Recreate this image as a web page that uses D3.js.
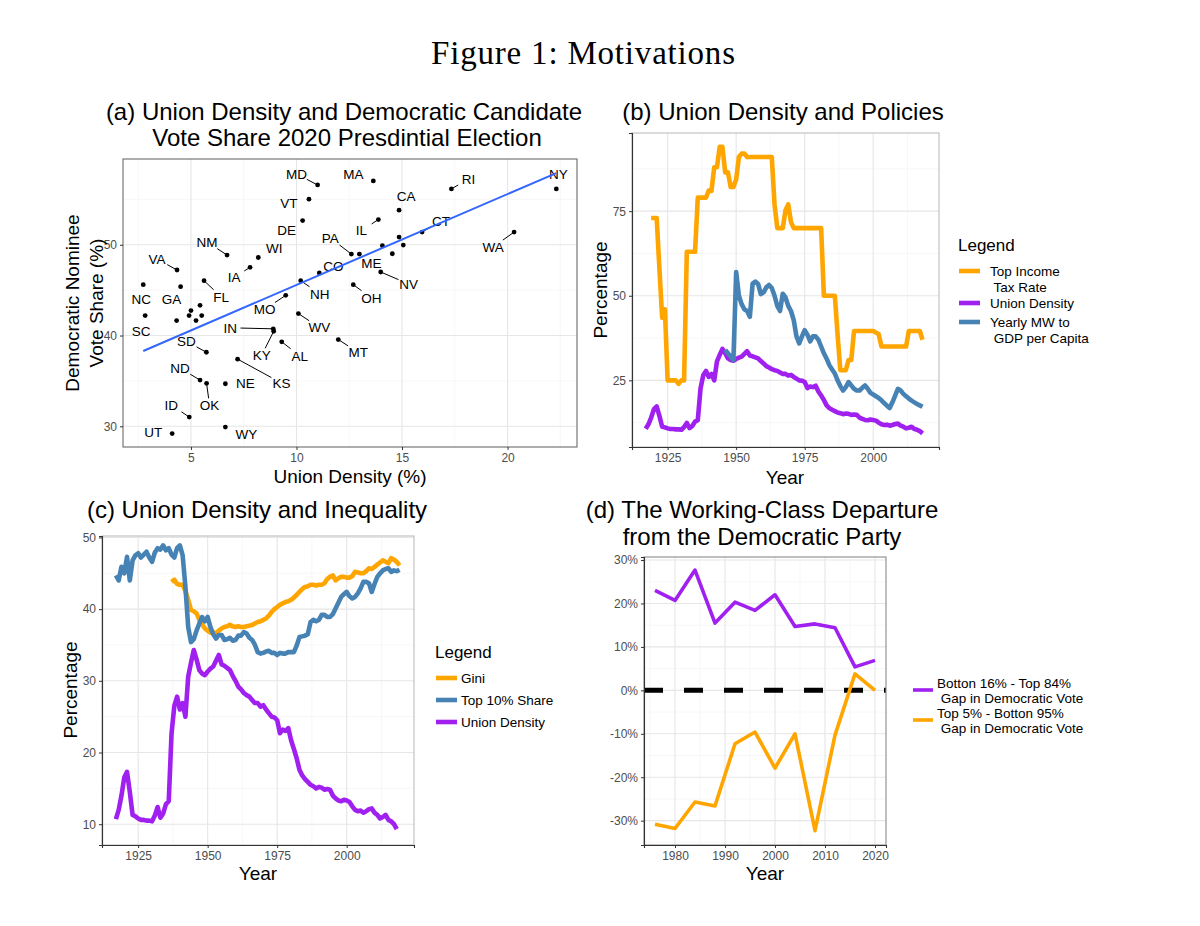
<!DOCTYPE html>
<html><head><meta charset="utf-8">
<script src="https://cdn.jsdelivr.net/npm/d3@7"></script>
<style>body{margin:0;background:#fff} svg text{font-family:"Liberation Sans",Arial,sans-serif}</style>
</head><body>
<script>
// ---------------- DATA ----------------
// (a) scatter: states
const stateNames = ["MD","MA","RI","NY","VT","CA","DE","IL","CT","WA","NM","WI","PA","ME","IA","VA","CO","NV","NC","GA","FL","NH","OH","SC","MO","WV","IN","KY","AL","MT","SD","KS","ND","OK","NE","ID","UT","WY","","","","","","","","","",""];
const stateDensity = [11.00,13.64,17.34,22.31,10.59,14.86,10.29,13.88,15.95,20.31,6.71,8.19,12.60,12.98,7.80,4.34,11.08,13.99,2.74,4.51,5.62,10.20,12.69,2.83,9.49,10.09,8.90,8.92,9.30,11.98,5.73,7.21,5.43,5.74,6.63,4.92,4.11,6.63,5.00,5.43,4.91,5.24,5.51,4.32,14.86,14.07,15.06,14.54];
const stateDemShare = [56.59,57.03,56.15,56.15,55.02,53.81,52.67,52.78,51.40,51.40,48.87,48.60,48.98,48.98,47.51,47.22,46.89,47.00,45.60,45.38,46.04,46.04,45.60,42.20,44.43,42.42,40.74,40.47,39.31,39.56,38.16,37.40,35.09,34.73,34.69,31.02,29.20,29.92,42.75,43.33,42.20,41.65,42.20,41.65,50.85,49.89,49.97,49.01];
const fitX = [2.74, 22.31];
const fitY = [38.3, 57.9];

// (b)/(c) union density 1917-2018
const unionStart = 1917;
const unionDensity = [10.7,12.0,14.0,16.5,17.3,14.5,11.3,11.1,10.8,10.6,
 10.6,10.5,10.5,10.4,11.2,12.4,10.9,11.5,12.8,13.2,
 22.6,26.5,27.8,26.0,26.9,25.0,30.6,32.5,34.3,33.0,
 31.5,31.0,30.8,31.3,31.7,32.0,32.8,33.6,32.3,32.1,
 31.8,31.5,30.7,30.0,29.2,28.8,28.3,28.0,27.8,27.3,
 26.9,26.9,26.4,26.6,26.0,25.5,25.0,24.9,24.5,22.7,
 23.2,23.0,23.4,21.7,20.5,19.2,17.6,16.8,16.3,15.9,
 15.5,15.3,15.0,15.2,15.1,14.8,14.9,14.8,14.0,13.6,
 13.3,13.2,13.4,13.3,13.1,12.5,12.0,11.8,11.9,11.6,
 11.8,12.1,12.2,11.6,11.3,10.8,11.0,11.3,10.6,10.4,
 10.0,9.3];
// (b) top income tax rate 1919-2018
const taxStart = 1919;
const topTaxRate = [73,73,73,58,43.5,46,25,25,25,25,
 24,25,25,63,63,63,63,79,79,79,
 79,81.1,81,88,88,94,94,86.45,86.45,82.13,
 82.13,84.36,91,92,92,91,91,91,91,91,
 91,91,91,91,91,77,70,70,70,75.25,
 77,71.75,70,70,70,70,70,70,70,70,
 70,70,70,50,50,50,50,50,38.5,28,
 28,28,31,31,39.6,39.6,39.6,39.6,39.6,39.6,
 39.6,39.6,39.1,38.6,35,35,35,35,35,35,
 35,35,35,35,39.6,39.6,39.6,39.6,39.6,37];
// (b) yearly minimum wage to GDP per capita 1946-2018
const mwStart = 1946;
const mwToGdp = [34.0,33.0,32.0,31.0,57.0,50.0,47.5,46.0,45.5,43.8,
 53.6,54.2,53.5,50.5,51.0,52.5,53.2,52.3,50.0,47.0,
 45.5,50.6,49.5,47.0,45.5,42.8,38.0,35.9,38.0,39.8,
 38.5,36.5,38.0,38.0,37.0,35.0,33.0,31.4,29.5,28.2,
 27.0,25.0,23.3,22.0,23.0,24.5,23.5,22.5,22.0,22.0,
 22.8,23.5,22.5,21.3,20.8,20.3,19.8,19.1,18.3,17.5,
 16.8,18.5,20.5,22.5,22.0,21.0,20.3,19.6,19.0,18.5,
 18.0,17.6,17.2];
// (c) top 10% share 1917-2019
const top10Start = 1917;
const top10Share = [44.7,44.0,45.9,45.0,47.3,44.0,46.8,47.5,47.8,47.2,
 47.6,48.0,47.2,46.6,47.9,48.5,48.3,48.9,48.2,48.5,
 47.6,47.2,48.5,48.9,47.5,43.1,37.5,35.4,35.8,37.0,
 38.0,38.9,38.3,38.9,37.5,36.5,35.9,36.4,36.4,35.7,
 35.8,36.0,35.6,35.7,36.3,36.3,36.8,36.6,36.0,35.7,
 35.0,34.0,33.8,33.9,34.1,34.2,33.9,33.9,33.6,33.9,
 33.8,33.8,34.0,34.0,34.0,34.9,36.1,36.2,36.3,36.5,
 38.2,38.5,38.3,38.5,39.2,39.2,38.9,38.9,39.3,40.1,
 40.9,41.7,42.1,42.4,41.8,41.5,41.7,42.2,42.9,43.8,
 43.8,43.6,42.4,43.5,44.5,45.0,45.4,45.6,45.7,45.2,
 45.4,45.3,45.5];
// (c) Gini 1937-2019
const giniStart = 1937;
const gini = [43.8,44.1,43.5,43.4,43.4,42.5,41.3,39.9,39.7,39.4,
 38.5,37.9,37.3,37.0,36.7,36.8,36.6,37.0,37.3,37.5,
 37.6,37.8,37.6,37.5,37.6,37.5,37.5,37.6,37.7,37.8,
 38.0,38.2,38.3,38.5,38.7,39.1,39.6,40.0,40.3,40.6,
 40.8,41.0,41.1,41.3,41.6,42.0,42.4,42.8,43.1,43.2,
 43.4,43.4,43.3,43.4,43.4,43.6,44.2,44.5,44.7,44.0,
 44.3,44.5,44.5,44.4,44.4,44.6,45.2,45.1,45.0,45.0,
 45.3,45.7,45.6,45.9,46.2,46.5,46.8,46.6,46.4,47.1,
 46.9,46.6,46.1];
// (d) working-class departure
const electionYears = [1976,1980,1984,1988,1992,1996,2000,2004,2008,2012,2016,2020];
const gapBottom16 = [23.0,20.7,27.7,15.5,20.3,18.4,22.0,14.7,15.3,14.4,5.4,6.9];
const gapTop5 = [-30.8,-31.8,-25.7,-26.6,-12.3,-9.6,-17.9,-10.0,-32.3,-10.3,3.8,0.0];

// tick labels
const ticksA_x = [5,10,15,20], ticksA_y = [30,40,50];
const ticksYear = [1925,1950,1975,2000];
const ticksB_y = [25,50,75];
const ticksC_y = [10,20,30,40,50];
const ticksD_x = [1980,1990,2000,2010,2020];
const ticksD_y = [-30,-20,-10,0,10,20,30];

// ---------------- STYLE / LAYOUT ----------------
const ORANGE="#FFA500", PURPLE="#A020F0", STEEL="#4682B4", FITBLUE="#3366FF";
const labelOffsets = {MD:[-21,-11],MA:[-20,-7],RI:[17,-10],NY:[2,-15],VT:[-20,4],CA:[7,-14],DE:[-16,10],IL:[-17,11],CT:[19,-11],WA:[-21,15],
 NM:[-20,-13],WI:[16,-9],PA:[-21,-16],ME:[12,9],IA:[-16,10],VA:[-20,-11],CO:[14,-7],NV:[28,12],NC:[-2,14],GA:[-9,12],FL:[17,16],NH:[19,13],
 OH:[18,13],SC:[-4,16],MO:[-21,14],WV:[21,14],IN:[-43,-1],KY:[-12,24],AL:[18,14],MT:[20,13],SD:[-20,-11],KS:[44,24],ND:[-20,-12],OK:[3,22],
 NE:[20,-1],ID:[-18,-12],UT:[-19,-1],WY:[21,7]};
const segStates = new Set(["MD","RI","IL","CT","WA","NM","PA","IA","VA","NV","FL","NH","OH","MO","WV","IN","KY","AL","MT","SD","KS","ND","OK","ID"]);

const svg = d3.select("body").append("svg").attr("width",1200).attr("height",926);
svg.append("rect").attr("width",1200).attr("height",926).attr("fill","#fff");

function zip(start, vals){ return vals.map((v,i)=>[start+i, v]); }

function panel(c){
  const x = d3.scaleLinear().domain(c.xDomain).range([c.left,c.right]);
  const y = d3.scaleLinear().domain(c.yDomain).range([c.bottom,c.top]);
  const g = svg.append("g");
  const grid = g.append("g");
  c.xMinor.forEach(v=>grid.append("line").attr("x1",x(v)).attr("x2",x(v)).attr("y1",c.top).attr("y2",c.bottom).attr("stroke","#f3f3f3").attr("stroke-width",0.7));
  c.yMinor.forEach(v=>grid.append("line").attr("y1",y(v)).attr("y2",y(v)).attr("x1",c.left).attr("x2",c.right).attr("stroke","#f3f3f3").attr("stroke-width",0.7));
  c.xTicks.forEach(v=>grid.append("line").attr("x1",x(v)).attr("x2",x(v)).attr("y1",c.top).attr("y2",c.bottom).attr("stroke","#e6e6e6").attr("stroke-width",1.1));
  c.yTicks.forEach(v=>grid.append("line").attr("y1",y(v)).attr("y2",y(v)).attr("x1",c.left).attr("x2",c.right).attr("stroke","#e6e6e6").attr("stroke-width",1.1));
  return {g,x,y,c};
}
function finish(p){
  const {g,x,y,c} = p;
  g.append("rect").attr("x",c.left).attr("y",c.top).attr("width",c.right-c.left).attr("height",c.bottom-c.top)
    .attr("fill","none").attr("stroke",c.borderColor).attr("stroke-width",1.1);
  const ax = g.append("g").attr("transform",`translate(0,${c.bottom})`)
    .call(d3.axisBottom(x).tickValues(c.xTicks).tickSize(3).tickPadding(3).tickFormat(c.xFmt));
  const ay = g.append("g").attr("transform",`translate(${c.left},0)`)
    .call(d3.axisLeft(y).tickValues(c.yTicks).tickSize(3).tickPadding(3).tickFormat(c.yFmt));
  [ax,ay].forEach(a=>{
    a.attr("font-size",null).attr("font-family",null);
    a.select(".domain").attr("stroke", c.axisLine ? "#333" : "none").attr("stroke-width",1.1);
    a.selectAll(".tick line").attr("stroke","#333").attr("stroke-width",1);
    a.selectAll(".tick text").attr("fill","#4d4d4d").style("font-size","12px").style("font-family",'"Liberation Sans",Arial,sans-serif');
  });
}
function text(x,y,str,size,opts={}){
  const t = svg.append("text").attr("x",x).attr("y",y).text(str).style("font-size",size+"px")
    .attr("text-anchor",opts.anchor||"middle").attr("fill",opts.fill||"#000").style("white-space","pre");
  if(opts.rotate) t.attr("transform",`rotate(-90,${x},${y})`);
  return t;
}
function drawLine(p, data, color, w){
  p.g.append("path").datum(data).attr("fill","none").attr("stroke",color).attr("stroke-width",w)
    .attr("stroke-linejoin","round").attr("d", d3.line().x(d=>p.x(d[0])).y(d=>p.y(d[1])));
}

// ---------------- FIGURE TITLE ----------------
svg.append("text").attr("x",583).attr("y",64).attr("text-anchor","middle").text("Figure 1: Motivations")
  .style("font-family",'"Liberation Serif","DejaVu Serif",serif').style("font-size","33px")
  .attr("textLength",304).attr("lengthAdjust","spacing");

// ---------------- (a) ----------------
const pa = panel({left:123,right:577,top:159,bottom:447,xDomain:[1.78,23.29],yDomain:[27.72,59.45],
  xTicks:ticksA_x,yTicks:ticksA_y,xMinor:[2.5,7.5,12.5,17.5,22.5],yMinor:[35,45,55],
  xFmt:d=>d,yFmt:d=>d,borderColor:"#6b6b6b",axisLine:false});
const pts = stateNames.map((s,i)=>({s, x:stateDensity[i], y:stateDemShare[i]}));
pts.forEach(d=>{
  if(!d.s) return;
  const px = pa.x(d.x), py = pa.y(d.y);
  const off = labelOffsets[d.s];
  const cx = px+off[0], cy = py+off[1];
  if(segStates.has(d.s)){
    const hw = d.s.length*4.6+1, hh = 7;
    const dx = px-cx, dy = py-cy;
    const s = Math.min(Math.abs(dx)>0?hw/Math.abs(dx):1e9, Math.abs(dy)>0?hh/Math.abs(dy):1e9);
    pa.g.append("line").attr("x1",px).attr("y1",py).attr("x2",cx+dx*s).attr("y2",cy+dy*s)
      .attr("stroke","#000").attr("stroke-width",1);
  }
  pa.g.append("text").attr("x",cx).attr("y",cy).attr("dy","0.36em").attr("text-anchor","middle")
    .style("font-size","13.5px").text(d.s);
});
pa.g.selectAll("circle.pt").data(pts).join("circle").attr("class","pt")
  .attr("cx",d=>pa.x(d.x)).attr("cy",d=>pa.y(d.y)).attr("r",2.4).attr("fill","#000");
drawLine(pa, fitX.map((v,i)=>[v,fitY[i]]), FITBLUE, 2);
finish(pa);
text(344,120,"(a) Union Density and Democratic Candidate",24);
text(347,146,"Vote Share 2020 Presdintial Election",24);
text(350,483,"Union Density (%)",19);
text(79,303,"Democratic Nominee",19,{rotate:true});
text(103,303,"Vote Share (%)",19,{rotate:true});

// ---------------- (b) ----------------
const pb = panel({left:632,right:939,top:133,bottom:447,xDomain:[1912,2024],yDomain:[5.3,98.1],
  xTicks:ticksYear,yTicks:ticksB_y,xMinor:[1912.5,1937.5,1962.5,1987.5,2012.5],yMinor:[12.5,37.5,62.5,87.5],
  xFmt:d=>d,yFmt:d=>d,borderColor:"#bdbdbd",axisLine:true});
drawLine(pb, zip(taxStart, topTaxRate), ORANGE, 4.6);
drawLine(pb, zip(unionStart, unionDensity), PURPLE, 4.6);
drawLine(pb, zip(mwStart, mwToGdp), STEEL, 4.6);
finish(pb);
text(783,120,"(b) Union Density and Policies",24);
text(785,484,"Year",19);
text(607,290,"Percentage",19,{rotate:true});
text(958,251,"Legend",17,{anchor:"start"});
[[ORANGE,271,["Top Income"," Tax Rate"]],[PURPLE,303,["Union Density"]],[STEEL,322,["Yearly MW to"," GDP per Capita"]]]
.forEach(([col,yy,lines])=>{
  svg.append("line").attr("x1",959).attr("x2",980).attr("y1",yy).attr("y2",yy).attr("stroke",col).attr("stroke-width",4.6);
  lines.forEach((l,i)=>text(990,yy+5+i*15.5,l,13.5,{anchor:"start"}));
});

// ---------------- (c) ----------------
const pc = panel({left:102,right:414,top:536,bottom:845,xDomain:[1912,2024.2],yDomain:[7.1,50.2],
  xTicks:ticksYear,yTicks:ticksC_y,xMinor:[1912.5,1937.5,1962.5,1987.5,2012.5],yMinor:[15,25,35,45],
  xFmt:d=>d,yFmt:d=>d,borderColor:"#bdbdbd",axisLine:true});
drawLine(pc, zip(giniStart, gini), ORANGE, 4.6);
drawLine(pc, zip(top10Start, top10Share), STEEL, 4.6);
drawLine(pc, zip(unionStart, unionDensity), PURPLE, 4.6);
finish(pc);
text(257,518,"(c) Union Density and Inequality",24);
text(258,880,"Year",19);
text(77,690,"Percentage",19,{rotate:true});
text(435,658,"Legend",17,{anchor:"start"});
[[ORANGE,678,"Gini"],[STEEL,700,"Top 10% Share"],[PURPLE,722,"Union Density"]].forEach(([col,yy,l])=>{
  svg.append("line").attr("x1",436).attr("x2",457).attr("y1",yy).attr("y2",yy).attr("stroke",col).attr("stroke-width",4.6);
  text(461,yy+5,l,13.5,{anchor:"start"});
});

// ---------------- (d) ----------------
const pd = panel({left:644,right:886,top:557,bottom:845,xDomain:[1973.8,2022.2],yDomain:[-35.6,30.7],
  xTicks:ticksD_x,yTicks:ticksD_y,xMinor:[1975,1985,1995,2005,2015],yMinor:[-35,-25,-15,-5,5,15,25],
  xFmt:d=>d,yFmt:d=>d+"%",borderColor:"#8a8a8a",axisLine:true});
pd.g.append("line").attr("x1",pd.c.left).attr("x2",pd.c.right).attr("y1",pd.y(0)).attr("y2",pd.y(0))
  .attr("stroke","#000").attr("stroke-width",5).attr("stroke-dasharray","19,21");
drawLine(pd, electionYears.map((yv,i)=>[yv,gapBottom16[i]]), PURPLE, 3.6);
drawLine(pd, electionYears.map((yv,i)=>[yv,gapTop5[i]]), ORANGE, 3.6);
finish(pd);
text(762,518,"(d) The Working-Class Departure",24);
text(762,545,"from the Democratic Party",24);
text(765,880,"Year",19);
[[PURPLE,690,["Botton 16% - Top 84%"," Gap in Democratic Vote"]],[ORANGE,720,["Top 5% - Botton 95%"," Gap in Democratic Vote"]]]
.forEach(([col,yy,lines])=>{
  svg.append("line").attr("x1",913).attr("x2",933).attr("y1",yy).attr("y2",yy).attr("stroke",col).attr("stroke-width",3.6);
  lines.forEach((l,i)=>text(937,yy-2+i*15,l,13.5,{anchor:"start"}));
});
</script>
</body></html>
